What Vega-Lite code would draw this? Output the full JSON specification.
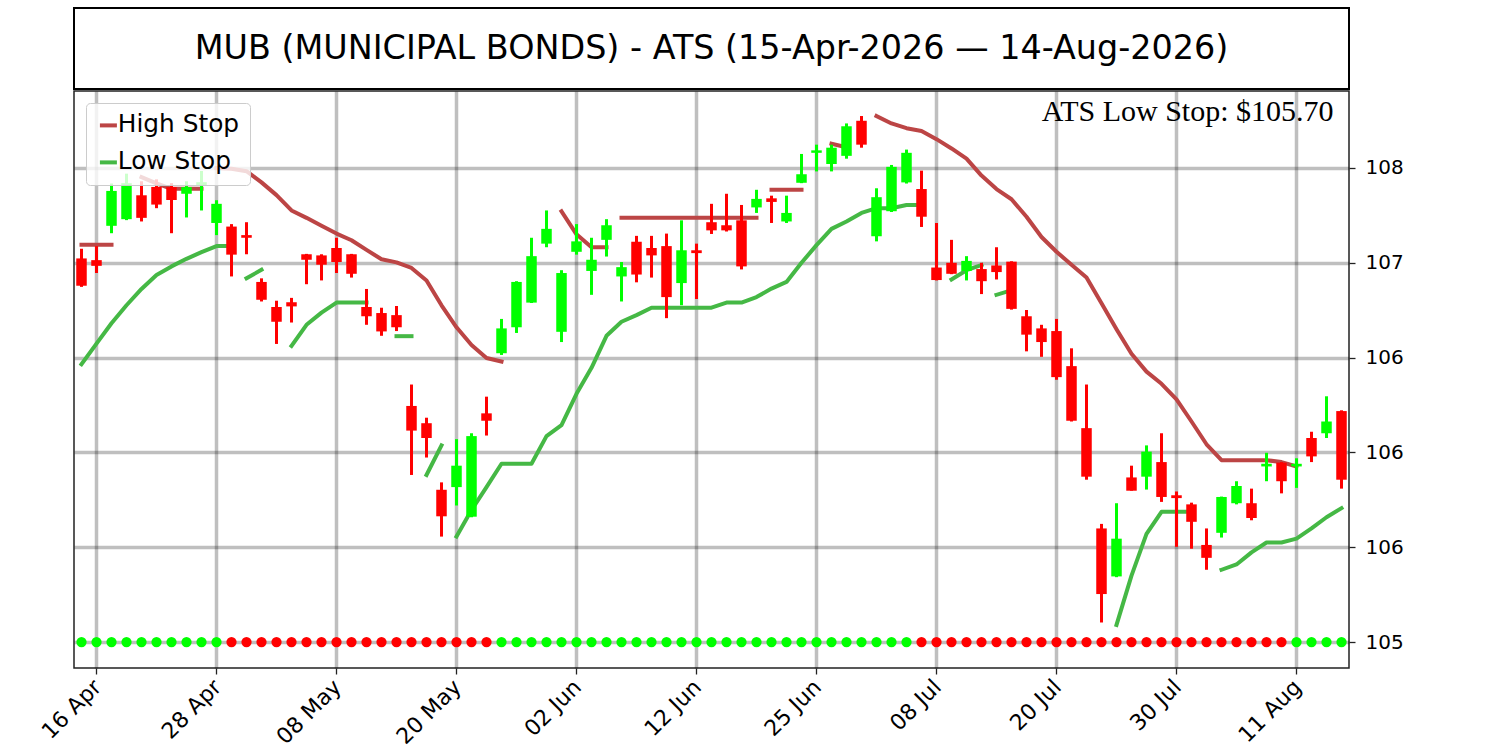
{
  "$schema": "https://vega.github.io/schema/vega-lite/v6.json",
  "background": "white",
  "padding": {"left": 36, "top": 7, "right": 5, "bottom": 2},
  "spacing": 0,
  "config": {
    "font": "DejaVu Sans",
    "view": {"stroke": "#222222", "strokeWidth": 1.5}
  },
  "resolve": {"scale": {"color": "independent"}, "legend": {"color": "independent"}},
  "datasets": {
    "ohlc": [
      {"d": "2026-04-15", "o": 107.023, "h": 107.074, "l": 106.873, "c": 106.879, "hs": 107.095, "hg": 1, "ls": 106.465, "lg": 1, "sig": "up"},
      {"d": "2026-04-16", "o": 107.014, "h": 107.088, "l": 106.946, "c": 106.984, "hs": 107.095, "hg": 1, "ls": 106.574, "lg": 1, "sig": "up"},
      {"d": "2026-04-17", "o": 107.195, "h": 107.418, "l": 107.156, "c": 107.379, "hs": 107.095, "hg": 1, "ls": 106.681, "lg": 1, "sig": "up"},
      {"d": "2026-04-20", "o": 107.23, "h": 107.47, "l": 107.225, "c": 107.42, "ls": 106.776, "lg": 1, "sig": "up"},
      {"d": "2026-04-21", "o": 107.356, "h": 107.43, "l": 107.218, "c": 107.237, "hs": 107.452, "hg": 2, "ls": 106.862, "lg": 1, "sig": "up"},
      {"d": "2026-04-22", "o": 107.4, "h": 107.44, "l": 107.288, "c": 107.307, "hs": 107.419, "hg": 2, "ls": 106.936, "lg": 1, "sig": "up"},
      {"d": "2026-04-23", "o": 107.399, "h": 107.42, "l": 107.156, "c": 107.331, "hs": 107.39, "hg": 2, "ls": 106.981, "lg": 1, "sig": "up"},
      {"d": "2026-04-24", "o": 107.364, "h": 107.43, "l": 107.239, "c": 107.399, "hs": 107.39, "hg": 2, "ls": 107.021, "lg": 1, "sig": "up"},
      {"d": "2026-04-27", "o": 107.41, "h": 107.484, "l": 107.276, "c": 107.425, "hs": 107.39, "hg": 2, "ls": 107.056, "lg": 1, "sig": "up"},
      {"d": "2026-04-28", "o": 107.21, "h": 107.33, "l": 107.146, "c": 107.311, "hs": 107.5, "hg": 3, "ls": 107.088, "lg": 1, "sig": "up"},
      {"d": "2026-04-29", "o": 107.191, "h": 107.204, "l": 106.928, "c": 107.043, "hs": 107.496, "hg": 3, "ls": 107.088, "lg": 1, "sig": "down"},
      {"d": "2026-04-30", "o": 107.146, "h": 107.214, "l": 107.045, "c": 107.132, "hs": 107.483, "hg": 3, "ls": 106.918, "lg": 2, "sig": "down"},
      {"d": "2026-05-01", "o": 106.899, "h": 106.918, "l": 106.796, "c": 106.805, "hs": 107.424, "hg": 3, "ls": 106.963, "lg": 2, "sig": "down"},
      {"d": "2026-05-04", "o": 106.767, "h": 106.8, "l": 106.572, "c": 106.689, "hs": 107.357, "hg": 3, "sig": "down"},
      {"d": "2026-05-05", "o": 106.792, "h": 106.815, "l": 106.685, "c": 106.77, "hs": 107.276, "hg": 3, "ls": 106.562, "lg": 3, "sig": "down"},
      {"d": "2026-05-06", "o": 107.045, "h": 107.047, "l": 106.887, "c": 107.016, "hs": 107.237, "hg": 3, "ls": 106.673, "lg": 3, "sig": "down"},
      {"d": "2026-05-07", "o": 107.039, "h": 107.045, "l": 106.907, "c": 106.99, "hs": 107.195, "hg": 3, "ls": 106.737, "lg": 3, "sig": "down"},
      {"d": "2026-05-08", "o": 107.078, "h": 107.132, "l": 106.946, "c": 107.004, "hs": 107.154, "hg": 3, "ls": 106.79, "lg": 3, "sig": "down"},
      {"d": "2026-05-11", "o": 107.045, "h": 107.047, "l": 106.922, "c": 106.942, "hs": 107.119, "hg": 3, "ls": 106.79, "lg": 3, "sig": "down"},
      {"d": "2026-05-12", "o": 106.767, "h": 106.862, "l": 106.673, "c": 106.718, "hs": 107.068, "hg": 3, "ls": 106.79, "lg": 3, "sig": "down"},
      {"d": "2026-05-13", "o": 106.735, "h": 106.763, "l": 106.615, "c": 106.638, "hs": 107.019, "hg": 3, "sig": "down"},
      {"d": "2026-05-14", "o": 106.724, "h": 106.772, "l": 106.64, "c": 106.66, "hs": 107.002, "hg": 3, "ls": 106.613, "lg": 4, "sig": "down"},
      {"d": "2026-05-15", "o": 106.245, "h": 106.358, "l": 105.881, "c": 106.115, "hs": 106.973, "hg": 3, "ls": 106.613, "lg": 4, "sig": "down"},
      {"d": "2026-05-18", "o": 106.154, "h": 106.183, "l": 105.973, "c": 106.076, "hs": 106.907, "hg": 3, "ls": 105.881, "lg": 5, "sig": "down"},
      {"d": "2026-05-19", "o": 105.803, "h": 105.842, "l": 105.556, "c": 105.663, "hs": 106.776, "hg": 3, "ls": 106.037, "lg": 5, "sig": "down"},
      {"d": "2026-05-20", "o": 105.817, "h": 106.07, "l": 105.72, "c": 105.93, "hs": 106.66, "hg": 3, "ls": 105.556, "lg": 6, "sig": "down"},
      {"d": "2026-05-21", "o": 105.661, "h": 106.101, "l": 105.658, "c": 106.086, "hs": 106.566, "hg": 3, "ls": 105.696, "lg": 6, "sig": "down"},
      {"d": "2026-05-22", "o": 106.206, "h": 106.294, "l": 106.089, "c": 106.167, "hs": 106.498, "hg": 3, "ls": 105.817, "lg": 6, "sig": "down"},
      {"d": "2026-05-26", "o": 106.523, "h": 106.704, "l": 106.514, "c": 106.654, "hs": 106.479, "hg": 3, "ls": 105.94, "lg": 6, "sig": "up"},
      {"d": "2026-05-27", "o": 106.66, "h": 106.903, "l": 106.63, "c": 106.899, "ls": 105.94, "lg": 6, "sig": "up"},
      {"d": "2026-05-28", "o": 106.79, "h": 107.132, "l": 106.788, "c": 107.035, "ls": 105.94, "lg": 6, "sig": "up"},
      {"d": "2026-05-29", "o": 107.101, "h": 107.276, "l": 107.082, "c": 107.179, "ls": 106.086, "lg": 6, "sig": "up"},
      {"d": "2026-06-01", "o": 106.636, "h": 106.961, "l": 106.582, "c": 106.946, "hs": 107.272, "hg": 4, "ls": 106.144, "lg": 6, "sig": "up"},
      {"d": "2026-06-02", "o": 107.058, "h": 107.204, "l": 107.043, "c": 107.113, "hs": 107.15, "hg": 4, "ls": 106.309, "lg": 6, "sig": "up"},
      {"d": "2026-06-03", "o": 106.957, "h": 107.132, "l": 106.831, "c": 107.016, "hs": 107.082, "hg": 4, "ls": 106.446, "lg": 6, "sig": "up"},
      {"d": "2026-06-04", "o": 107.121, "h": 107.23, "l": 107.033, "c": 107.198, "hs": 107.082, "hg": 4, "ls": 106.615, "lg": 6, "sig": "up"},
      {"d": "2026-06-05", "o": 106.928, "h": 107.004, "l": 106.796, "c": 106.977, "hs": 107.237, "hg": 5, "ls": 106.689, "lg": 6, "sig": "up"},
      {"d": "2026-06-08", "o": 107.111, "h": 107.142, "l": 106.897, "c": 106.938, "hs": 107.237, "hg": 5, "ls": 106.724, "lg": 6, "sig": "up"},
      {"d": "2026-06-09", "o": 107.078, "h": 107.142, "l": 106.922, "c": 107.039, "hs": 107.237, "hg": 5, "ls": 106.763, "lg": 6, "sig": "up"},
      {"d": "2026-06-10", "o": 107.088, "h": 107.154, "l": 106.708, "c": 106.819, "hs": 107.237, "hg": 5, "ls": 106.763, "lg": 6, "sig": "up"},
      {"d": "2026-06-11", "o": 106.893, "h": 107.224, "l": 106.776, "c": 107.066, "hs": 107.237, "hg": 5, "ls": 106.763, "lg": 6, "sig": "up"},
      {"d": "2026-06-12", "o": 107.066, "h": 107.101, "l": 106.809, "c": 107.051, "hs": 107.237, "hg": 5, "ls": 106.763, "lg": 6, "sig": "up"},
      {"d": "2026-06-15", "o": 107.214, "h": 107.311, "l": 107.152, "c": 107.171, "hs": 107.237, "hg": 5, "ls": 106.763, "lg": 6, "sig": "up"},
      {"d": "2026-06-16", "o": 107.198, "h": 107.364, "l": 107.165, "c": 107.171, "hs": 107.237, "hg": 5, "ls": 106.79, "lg": 6, "sig": "up"},
      {"d": "2026-06-17", "o": 107.224, "h": 107.305, "l": 106.965, "c": 106.981, "hs": 107.237, "hg": 5, "ls": 106.79, "lg": 6, "sig": "up"},
      {"d": "2026-06-18", "o": 107.292, "h": 107.385, "l": 107.263, "c": 107.337, "hs": 107.237, "hg": 5, "ls": 106.819, "lg": 6, "sig": "up"},
      {"d": "2026-06-22", "o": 107.34, "h": 107.354, "l": 107.21, "c": 107.321, "hs": 107.385, "hg": 6, "ls": 106.864, "lg": 6, "sig": "up"},
      {"d": "2026-06-23", "o": 107.218, "h": 107.354, "l": 107.21, "c": 107.263, "hs": 107.385, "hg": 6, "ls": 106.899, "lg": 6, "sig": "up"},
      {"d": "2026-06-24", "o": 107.422, "h": 107.574, "l": 107.42, "c": 107.467, "hs": 107.385, "hg": 6, "ls": 107.0, "lg": 6, "sig": "up"},
      {"d": "2026-06-25", "o": 107.58, "h": 107.623, "l": 107.482, "c": 107.593, "ls": 107.093, "lg": 6, "sig": "up"},
      {"d": "2026-06-26", "o": 107.521, "h": 107.623, "l": 107.482, "c": 107.607, "hs": 107.628, "hg": 7, "ls": 107.179, "lg": 6, "sig": "up"},
      {"d": "2026-06-29", "o": 107.564, "h": 107.735, "l": 107.549, "c": 107.72, "hs": 107.609, "hg": 7, "ls": 107.218, "lg": 6, "sig": "up"},
      {"d": "2026-06-30", "o": 107.749, "h": 107.774, "l": 107.607, "c": 107.623, "ls": 107.263, "lg": 6, "sig": "up"},
      {"d": "2026-07-01", "o": 107.14, "h": 107.393, "l": 107.113, "c": 107.346, "hs": 107.774, "hg": 8, "ls": 107.288, "lg": 6, "sig": "up"},
      {"d": "2026-07-02", "o": 107.272, "h": 107.516, "l": 107.268, "c": 107.506, "hs": 107.735, "hg": 8, "ls": 107.288, "lg": 6, "sig": "up"},
      {"d": "2026-07-06", "o": 107.424, "h": 107.597, "l": 107.418, "c": 107.58, "hs": 107.71, "hg": 8, "ls": 107.305, "lg": 6, "sig": "up"},
      {"d": "2026-07-07", "o": 107.389, "h": 107.486, "l": 107.189, "c": 107.243, "hs": 107.695, "hg": 8, "ls": 107.305, "lg": 6, "sig": "down"},
      {"d": "2026-07-08", "o": 106.975, "h": 107.21, "l": 106.907, "c": 106.909, "hs": 107.652, "hg": 8, "sig": "down"},
      {"d": "2026-07-09", "o": 107.0, "h": 107.121, "l": 106.94, "c": 106.942, "hs": 107.603, "hg": 8, "ls": 106.912, "lg": 7, "sig": "down"},
      {"d": "2026-07-10", "o": 106.957, "h": 107.035, "l": 106.907, "c": 107.01, "hs": 107.549, "hg": 8, "ls": 106.961, "lg": 7, "sig": "down"},
      {"d": "2026-07-13", "o": 106.967, "h": 107.0, "l": 106.835, "c": 106.903, "hs": 107.46, "hg": 8, "ls": 106.988, "lg": 7, "sig": "down"},
      {"d": "2026-07-14", "o": 106.986, "h": 107.082, "l": 106.912, "c": 106.951, "hs": 107.389, "hg": 8, "ls": 106.831, "lg": 8, "sig": "down"},
      {"d": "2026-07-15", "o": 107.006, "h": 107.008, "l": 106.753, "c": 106.757, "hs": 107.335, "hg": 8, "ls": 106.855, "lg": 8, "sig": "down"},
      {"d": "2026-07-16", "o": 106.718, "h": 106.751, "l": 106.533, "c": 106.621, "hs": 107.243, "hg": 8, "sig": "down"},
      {"d": "2026-07-17", "o": 106.654, "h": 106.673, "l": 106.504, "c": 106.582, "hs": 107.136, "hg": 8, "sig": "down"},
      {"d": "2026-07-20", "o": 106.64, "h": 106.704, "l": 106.383, "c": 106.397, "hs": 107.058, "hg": 8, "sig": "down"},
      {"d": "2026-07-21", "o": 106.455, "h": 106.549, "l": 106.163, "c": 106.167, "hs": 106.99, "hg": 8, "sig": "down"},
      {"d": "2026-07-22", "o": 106.128, "h": 106.358, "l": 105.856, "c": 105.872, "hs": 106.922, "hg": 8, "sig": "down"},
      {"d": "2026-07-23", "o": 105.599, "h": 105.623, "l": 105.103, "c": 105.253, "hs": 106.786, "hg": 8, "sig": "down"},
      {"d": "2026-07-24", "o": 105.346, "h": 105.732, "l": 105.342, "c": 105.545, "hs": 106.65, "hg": 8, "ls": 105.09, "lg": 9, "sig": "down"},
      {"d": "2026-07-27", "o": 105.868, "h": 105.93, "l": 105.798, "c": 105.798, "hs": 106.52, "hg": 8, "ls": 105.35, "lg": 9, "sig": "down"},
      {"d": "2026-07-28", "o": 105.872, "h": 106.037, "l": 105.804, "c": 106.004, "hs": 106.426, "hg": 8, "ls": 105.57, "lg": 9, "sig": "down"},
      {"d": "2026-07-29", "o": 105.949, "h": 106.101, "l": 105.739, "c": 105.765, "hs": 106.362, "hg": 8, "ls": 105.687, "lg": 9, "sig": "down"},
      {"d": "2026-07-30", "o": 105.774, "h": 105.794, "l": 105.502, "c": 105.759, "hs": 106.28, "hg": 8, "ls": 105.687, "lg": 9, "sig": "down"},
      {"d": "2026-07-31", "o": 105.726, "h": 105.735, "l": 105.492, "c": 105.634, "hs": 106.163, "hg": 8, "ls": 105.687, "lg": 9, "sig": "down"},
      {"d": "2026-08-03", "o": 105.512, "h": 105.599, "l": 105.381, "c": 105.444, "hs": 106.043, "hg": 8, "sig": "down"},
      {"d": "2026-08-04", "o": 105.576, "h": 105.767, "l": 105.551, "c": 105.765, "hs": 105.959, "hg": 8, "ls": 105.381, "lg": 10, "sig": "down"},
      {"d": "2026-08-05", "o": 105.732, "h": 105.848, "l": 105.726, "c": 105.823, "hs": 105.959, "hg": 8, "ls": 105.409, "lg": 10, "sig": "down"},
      {"d": "2026-08-06", "o": 105.732, "h": 105.809, "l": 105.642, "c": 105.654, "hs": 105.959, "hg": 8, "ls": 105.473, "lg": 10, "sig": "down"},
      {"d": "2026-08-07", "o": 105.926, "h": 105.998, "l": 105.848, "c": 105.94, "hs": 105.959, "hg": 8, "ls": 105.525, "lg": 10, "sig": "down"},
      {"d": "2026-08-10", "o": 105.946, "h": 105.949, "l": 105.784, "c": 105.848, "hs": 105.949, "hg": 8, "ls": 105.525, "lg": 10, "sig": "down"},
      {"d": "2026-08-11", "o": 105.926, "h": 105.969, "l": 105.813, "c": 105.94, "hs": 105.926, "hg": 8, "ls": 105.545, "lg": 10, "sig": "up"},
      {"d": "2026-08-12", "o": 106.076, "h": 106.109, "l": 105.949, "c": 105.979, "ls": 105.599, "lg": 10, "sig": "up"},
      {"d": "2026-08-13", "o": 106.101, "h": 106.296, "l": 106.076, "c": 106.163, "ls": 105.658, "lg": 10, "sig": "up"},
      {"d": "2026-08-14", "o": 106.218, "h": 106.222, "l": 105.809, "c": 105.856, "ls": 105.706, "lg": 10, "sig": "up"}
    ]
  },
  "vconcat": [
    {
      "width": 1275,
      "height": 81,
      "view": {"stroke": "black", "strokeWidth": 2},
      "data": {"values": [{"t": "MUB (MUNICIPAL BONDS) - ATS (15-Apr-2026 — 14-Aug-2026)"}]},
      "mark": {"type": "text", "fontSize": 33.4, "align": "center", "baseline": "middle", "color": "black"},
      "encoding": {"text": {"field": "t", "type": "nominal"}}
    },
    {
      "width": 1275,
      "height": 577,
      "data": {"name": "ohlc"},
      "encoding": {
        "x": {
          "field": "d",
          "type": "ordinal",
          "scale": {"type": "band", "paddingInner": 0, "paddingOuter": 0},
          "axis": {
            "title": null,
            "values": ["2026-04-16", "2026-04-28", "2026-05-08", "2026-05-20", "2026-06-02", "2026-06-12", "2026-06-25", "2026-07-08", "2026-07-20", "2026-07-30", "2026-08-11"],
            "labelExpr": "utcFormat(toDate(datum.value), '%d %b')",
            "bandPosition": 0.5,
            "grid": true,
            "gridColor": "black",
            "gridOpacity": 0.25,
            "gridWidth": 3.5,
            "domain": false,
            "ticks": true,
            "tickSize": 6,
            "tickWidth": 1.3,
            "tickColor": "#222222",
            "labelAngle": 315,
            "labelAlign": "right",
            "labelBaseline": "top",
            "labelFontSize": 22,
            "labelColor": "black",
            "labelPadding": 2,
            "labelOffset": -6
          }
        }
      },
      "layer": [
        {
          "mark": {"type": "circle", "size": 105, "opacity": 1},
          "encoding": {
            "y": {
              "datum": 105,
              "type": "quantitative",
              "scale": {"domain": [104.863, 107.906], "zero": false, "nice": false},
              "axis": {
                "orient": "right",
                "title": null,
                "values": [105, 105.5, 106, 106.5, 107, 107.5],
                "labelExpr": "datum.value == 106.5 ? '106' : format(datum.value, '.0f')",
                "grid": true,
                "gridColor": "black",
                "gridOpacity": 0.25,
                "gridWidth": 3.5,
                "domain": false,
                "tickSize": 6,
                "tickWidth": 1.3,
                "tickColor": "#222222",
                "labelFontSize": 20,
                "labelColor": "black",
                "labelPadding": 10
              }
            },
            "color": {"condition": {"test": "datum.sig == 'up'", "value": "#00ff00"}, "value": "#ff0000"}
          }
        },
        {
          "transform": [{"filter": "isValid(datum.hs)"}],
          "mark": {"type": "line", "strokeWidth": 4, "strokeJoin": "round", "strokeCap": "square"},
          "encoding": {
            "y": {"field": "hs", "type": "quantitative"},
            "detail": {"field": "hg", "type": "nominal"},
            "color": {
              "datum": "High Stop",
              "type": "nominal",
              "scale": {"domain": ["High Stop", "Low Stop"], "range": ["#bc4545", "#45b845"]},
              "legend": {
                "title": null,
                "orient": "top-left",
                "offset": 12,
                "fillColor": "rgba(255,255,255,0.8)",
                "strokeColor": "#cccccc",
                "cornerRadius": 4,
                "padding": 10,
                "labelFontSize": 24.8,
                "labelColor": "black",
                "labelOffset": -3,
                "rowPadding": 11,
                "symbolType": "stroke",
                "symbolSize": 289,
                "symbolStrokeWidth": 4
              }
            }
          }
        },
        {
          "transform": [{"filter": "isValid(datum.ls)"}],
          "mark": {"type": "line", "strokeWidth": 4, "strokeJoin": "round", "strokeCap": "square"},
          "encoding": {
            "y": {"field": "ls", "type": "quantitative"},
            "detail": {"field": "lg", "type": "nominal"},
            "color": {"datum": "Low Stop", "type": "nominal"}
          }
        },
        {
          "mark": {"type": "rule", "strokeWidth": 3},
          "encoding": {
            "y": {"field": "l", "type": "quantitative"},
            "y2": {"field": "h"},
            "color": {"condition": {"test": "datum.c >= datum.o", "value": "#00ff00"}, "value": "#ff0000"}
          }
        },
        {
          "mark": {"type": "bar", "width": {"band": 0.7}},
          "encoding": {
            "y": {"field": "o", "type": "quantitative"},
            "y2": {"field": "c"},
            "color": {"condition": {"test": "datum.c >= datum.o", "value": "#00ff00"}, "value": "#ff0000"}
          }
        },
        {
          "data": {"values": [{"t": "ATS Low Stop: $105.70"}]},
          "mark": {"type": "text", "font": "Liberation Serif", "fontSize": 30, "align": "right", "baseline": "alphabetic", "dx": -8, "color": "black"},
          "encoding": {
            "x": {"datum": "2026-08-14", "type": "ordinal"},
            "y": {"datum": 107.747, "type": "quantitative"},
            "text": {"field": "t", "type": "nominal"}
          }
        }
      ]
    }
  ]
}
